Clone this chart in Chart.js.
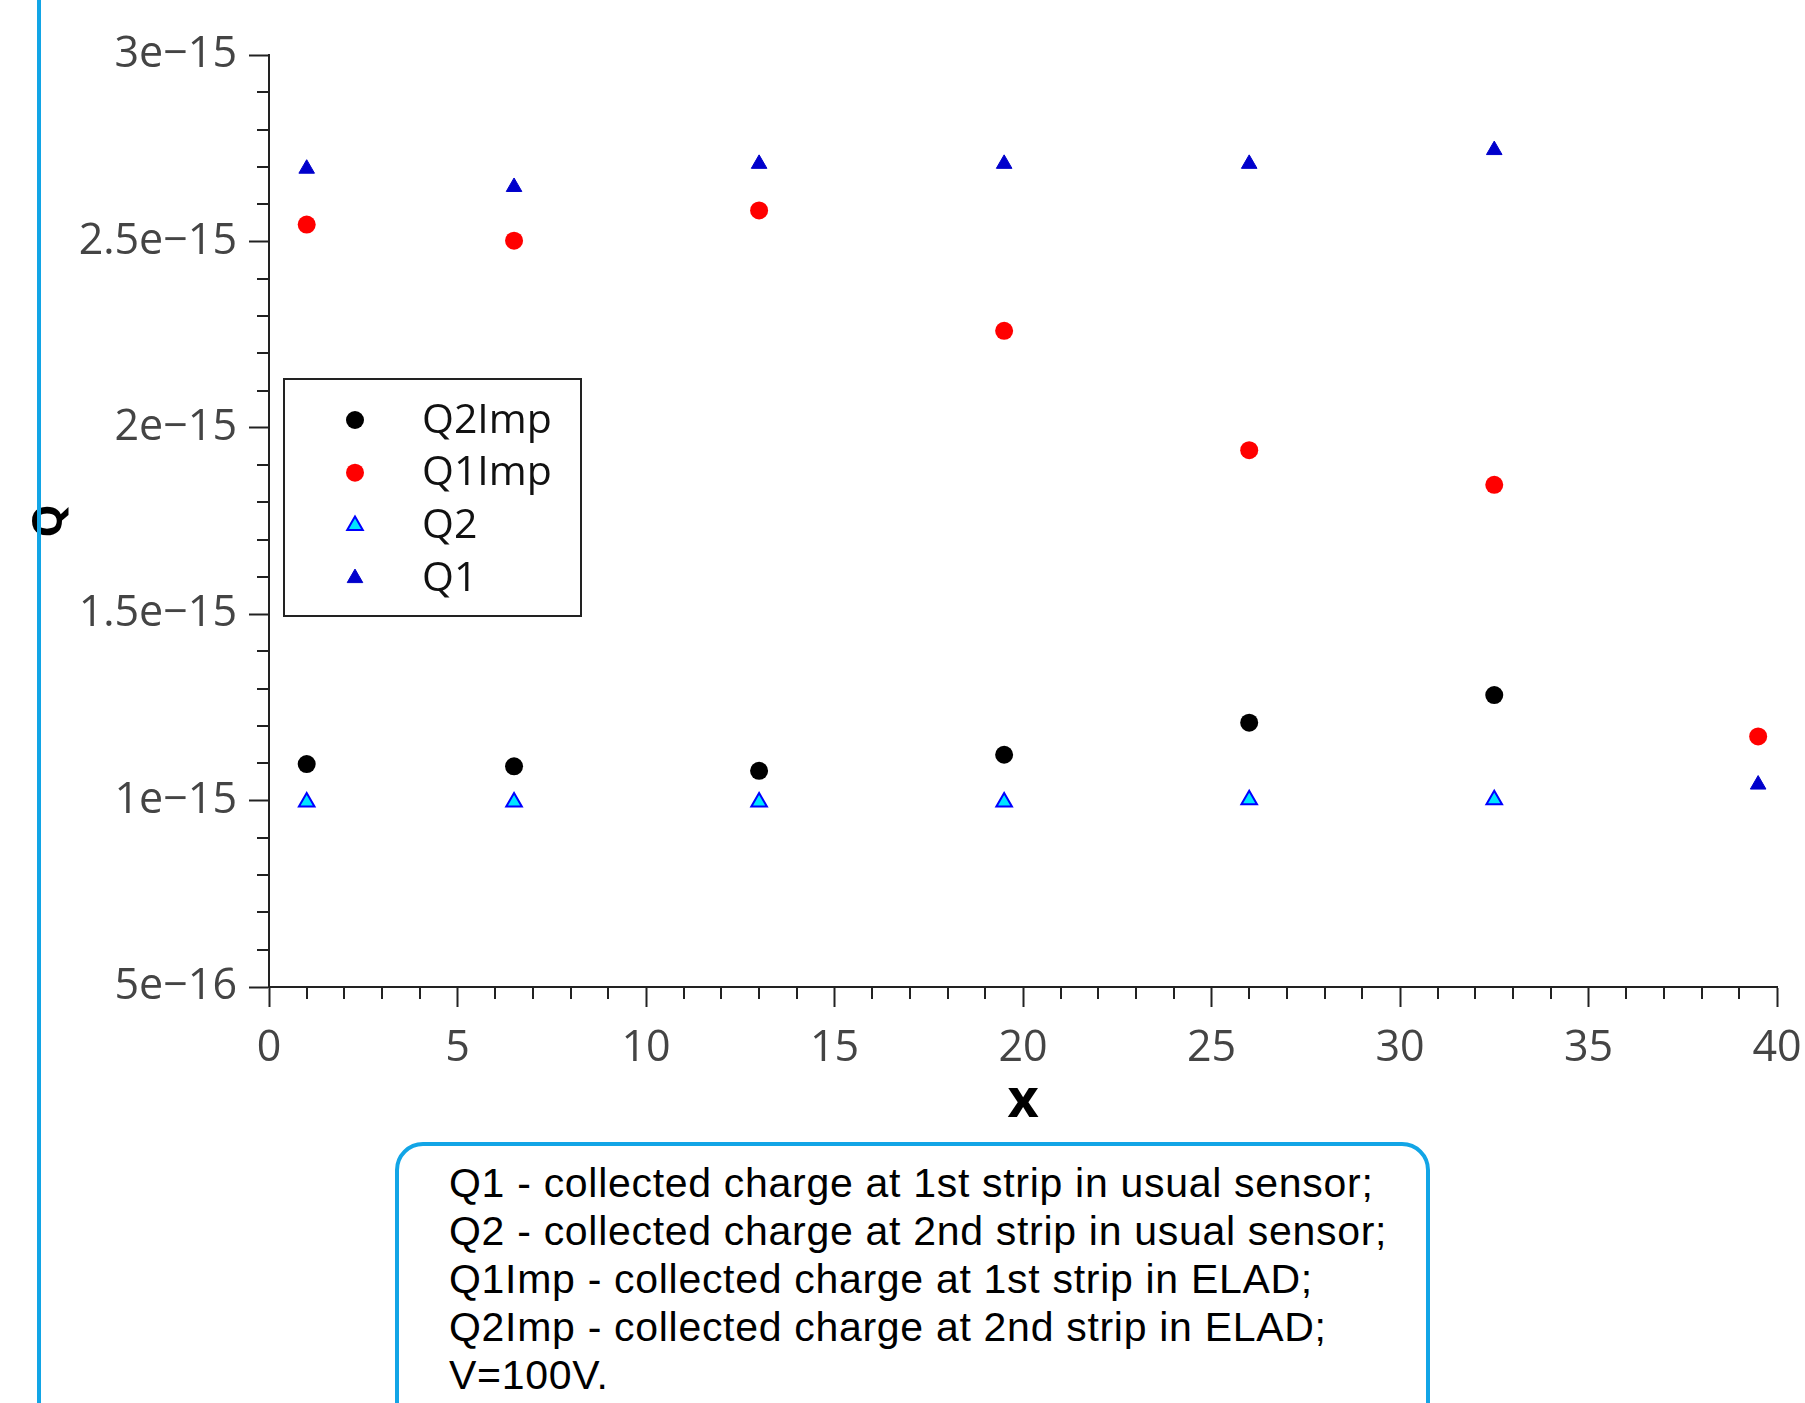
<!DOCTYPE html>
<html>
<head>
<meta charset="utf-8">
<script src="https://cdn.jsdelivr.net/npm/chart.js@4/dist/chart.umd.min.js"></script>
<style>
  html, body { margin: 0; padding: 0; background: #fff; }
  body { width: 1805px; height: 1403px; position: relative; overflow: hidden; }
  #chart { position: absolute; left: 0; top: 0; }
  #side-line { position: absolute; left: 37px; top: 0; width: 4px; height: 1403px; background: #12a5e6; }
  #note {
    position: absolute; left: 395px; top: 1142px; width: 1035px; height: 320px;
    border: 4px solid #12a5e6; border-radius: 28px; box-sizing: border-box;
    padding: 13px 0 0 50px;
    font-family: "Liberation Sans", Arial, sans-serif; font-size: 41px; line-height: 48px;
    letter-spacing: 0.7px; color: #000;
  }
</style>
</head>
<body>
<canvas id="chart" width="1805" height="1140"></canvas>
<div id="side-line"></div>
<div id="note">
  Q1 - collected charge at 1st strip in usual sensor;<br>
  Q2 - collected charge at 2nd strip in usual sensor;<br>
  Q1Imp - collected charge at 1st strip in ELAD;<br>
  Q2Imp - collected charge at 2nd strip in ELAD;<br>
  V=100V.
</div>
<script>
// positions along the strip (x)
const xQ2Imp = [1, 6.5, 13, 19.5, 26, 32.5];
const xQ1Imp = [1, 6.5, 13, 19.5, 26, 32.5, 39.5];
const xQ2    = [1, 6.5, 13, 19.5, 26, 32.5];
const xQ1    = [1, 6.5, 13, 19.5, 26, 32.5, 39.5];

// collected charge (Q)
const q2Imp = [1.098e-15, 1.092e-15, 1.080e-15, 1.123e-15, 1.209e-15, 1.283e-15];
const q1Imp = [2.545e-15, 2.502e-15, 2.583e-15, 2.260e-15, 1.940e-15, 1.847e-15, 1.172e-15];
const q2    = [0.996e-15, 0.996e-15, 0.996e-15, 0.996e-15, 1.002e-15, 1.002e-15];
const q1    = [2.695e-15, 2.646e-15, 2.708e-15, 2.708e-15, 2.708e-15, 2.745e-15, 1.043e-15];

const seriesNames = ['Q2Imp', 'Q1Imp', 'Q2', 'Q1'];

const xTicks = [0, 5, 10, 15, 20, 25, 30, 35, 40];
const yTicks = [5e-16, 1e-15, 1.5e-15, 2e-15, 2.5e-15, 3e-15];

const tickFont = { family: 'Open Sans', size: 43 };
const axisColor = '#222';

function pts(xs, ys) {
  return xs.map((x, i) => ({ x: x, y: ys[i] }));
}

function fmtExp(v) {
  return Number(Number(v).toPrecision(3)).toExponential().replace('e-', 'e\u2212').replace('e+', 'e');
}

// minor ticks, drawn from the scales
const minorTicks = {
  id: 'minorTicks',
  afterDraw(chart) {
    const ctx = chart.ctx;
    const xs = chart.scales.x, ys = chart.scales.y;
    ctx.save();
    ctx.strokeStyle = axisColor;
    ctx.lineWidth = 2;
    ctx.beginPath();
    for (let i = 0; i <= 40; i++) {
      if (i % 5 === 0) continue;
      const px = Math.round(xs.getPixelForValue(i));
      ctx.moveTo(px, xs.top);
      ctx.lineTo(px, xs.top + 12);
    }
    for (let i = 5; i <= 30; i++) {
      if (i % 5 === 0) continue;
      const py = Math.round(ys.getPixelForValue(i * 1e-16));
      ctx.moveTo(ys.right - 12, py);
      ctx.lineTo(ys.right, py);
    }
    ctx.stroke();
    ctx.restore();
  }
};

function drawMarker(ctx, ds, x, y) {
  const opts = {
    pointStyle: ds.pointStyle, radius: ds.pointRadius,
    borderWidth: ds.pointBorderWidth, rotation: 0
  };
  ctx.fillStyle = ds.pointBackgroundColor;
  ctx.strokeStyle = ds.pointBorderColor;
  ctx.lineWidth = ds.pointBorderWidth;
  if (Chart.helpers && Chart.helpers.drawPoint) {
    Chart.helpers.drawPoint(ctx, opts, x, y);
  } else {
    ctx.beginPath();
    ctx.arc(x, y, ds.pointRadius, 0, Math.PI * 2);
    ctx.fill();
    ctx.stroke();
  }
}

// boxed legend inside the plot area
const boxLegend = {
  id: 'boxLegend',
  afterDraw(chart) {
    const ctx = chart.ctx;
    const area = chart.chartArea;
    const bx = area.left + 15, by = area.top + 324, bw = 297, bh = 237;
    ctx.save();
    ctx.strokeStyle = '#222';
    ctx.lineWidth = 2;
    ctx.strokeRect(bx, by, bw, bh);
    ctx.font = '41px "Open Sans"';
    ctx.textBaseline = 'middle';
    chart.data.datasets.forEach((ds, i) => {
      const ry = by + 41 + i * 52.7;
      drawMarker(ctx, ds, bx + 71, ry);
      ctx.fillStyle = '#111';
      ctx.fillText(ds.label, bx + 138, ry + 1);
    });
    ctx.restore();
  }
};

new Chart(document.getElementById('chart'), {
  type: 'scatter',
  data: {
    datasets: [
      { label: seriesNames[0], data: pts(xQ2Imp, q2Imp), pointStyle: 'circle', pointRadius: 9,
        pointBackgroundColor: '#000', pointBorderColor: '#000', pointBorderWidth: 0 },
      { label: seriesNames[1], data: pts(xQ1Imp, q1Imp), pointStyle: 'circle', pointRadius: 9,
        pointBackgroundColor: '#ff0000', pointBorderColor: '#ff0000', pointBorderWidth: 0 },
      { label: seriesNames[2], data: pts(xQ2, q2), pointStyle: 'triangle', pointRadius: 9,
        pointBackgroundColor: '#00e5ff', pointBorderColor: '#0000ff', pointBorderWidth: 2 },
      { label: seriesNames[3], data: pts(xQ1, q1), pointStyle: 'triangle', pointRadius: 9,
        pointBackgroundColor: '#0000cc', pointBorderColor: '#0000cc', pointBorderWidth: 1 }
    ]
  },
  options: {
    responsive: false,
    animation: false,
    devicePixelRatio: 1,
    layout: { padding: { top: 55, right: 28, left: 0, bottom: 0 } },
    plugins: { legend: { display: false }, tooltip: { enabled: false } },
    scales: {
      x: {
        type: 'linear', min: 0, max: 40,
        afterBuildTicks: s => { s.ticks = xTicks.map(v => ({ value: v })); },
        afterFit: s => { s.height = 153; s.paddingLeft = 0; s.paddingRight = 0; },
        grid: { drawOnChartArea: false, drawTicks: true, tickLength: 20, tickColor: axisColor, tickWidth: 2 },
        border: { display: true, color: axisColor, width: 2 },
        ticks: { font: tickFont, color: '#444', padding: 16, maxRotation: 0, autoSkip: false },
        title: { display: true, text: 'x', color: '#000',
                 font: { family: 'Open Sans', size: 54, weight: 'bold' }, padding: { top: 0, bottom: 6 } }
      },
      y: {
        type: 'linear', min: 5e-16, max: 3e-15,
        afterBuildTicks: s => { s.ticks = yTicks.map(v => ({ value: v })); },
        afterFit: s => { s.width = 269; s.paddingTop = 0; s.paddingBottom = 0; },
        grid: { drawOnChartArea: false, drawTicks: true, tickLength: 20, tickColor: axisColor, tickWidth: 2 },
        border: { display: true, color: axisColor, width: 2 },
        ticks: { font: tickFont, color: '#444', padding: 12, autoSkip: false, callback: v => fmtExp(v) },
        title: { display: true, text: 'Q', color: '#000',
                 font: { family: 'Open Sans', size: 42, weight: 'bold' }, padding: { top: 25, bottom: 0 } }
      }
    }
  },
  plugins: [minorTicks, boxLegend]
});
</script>
</body>
</html>
